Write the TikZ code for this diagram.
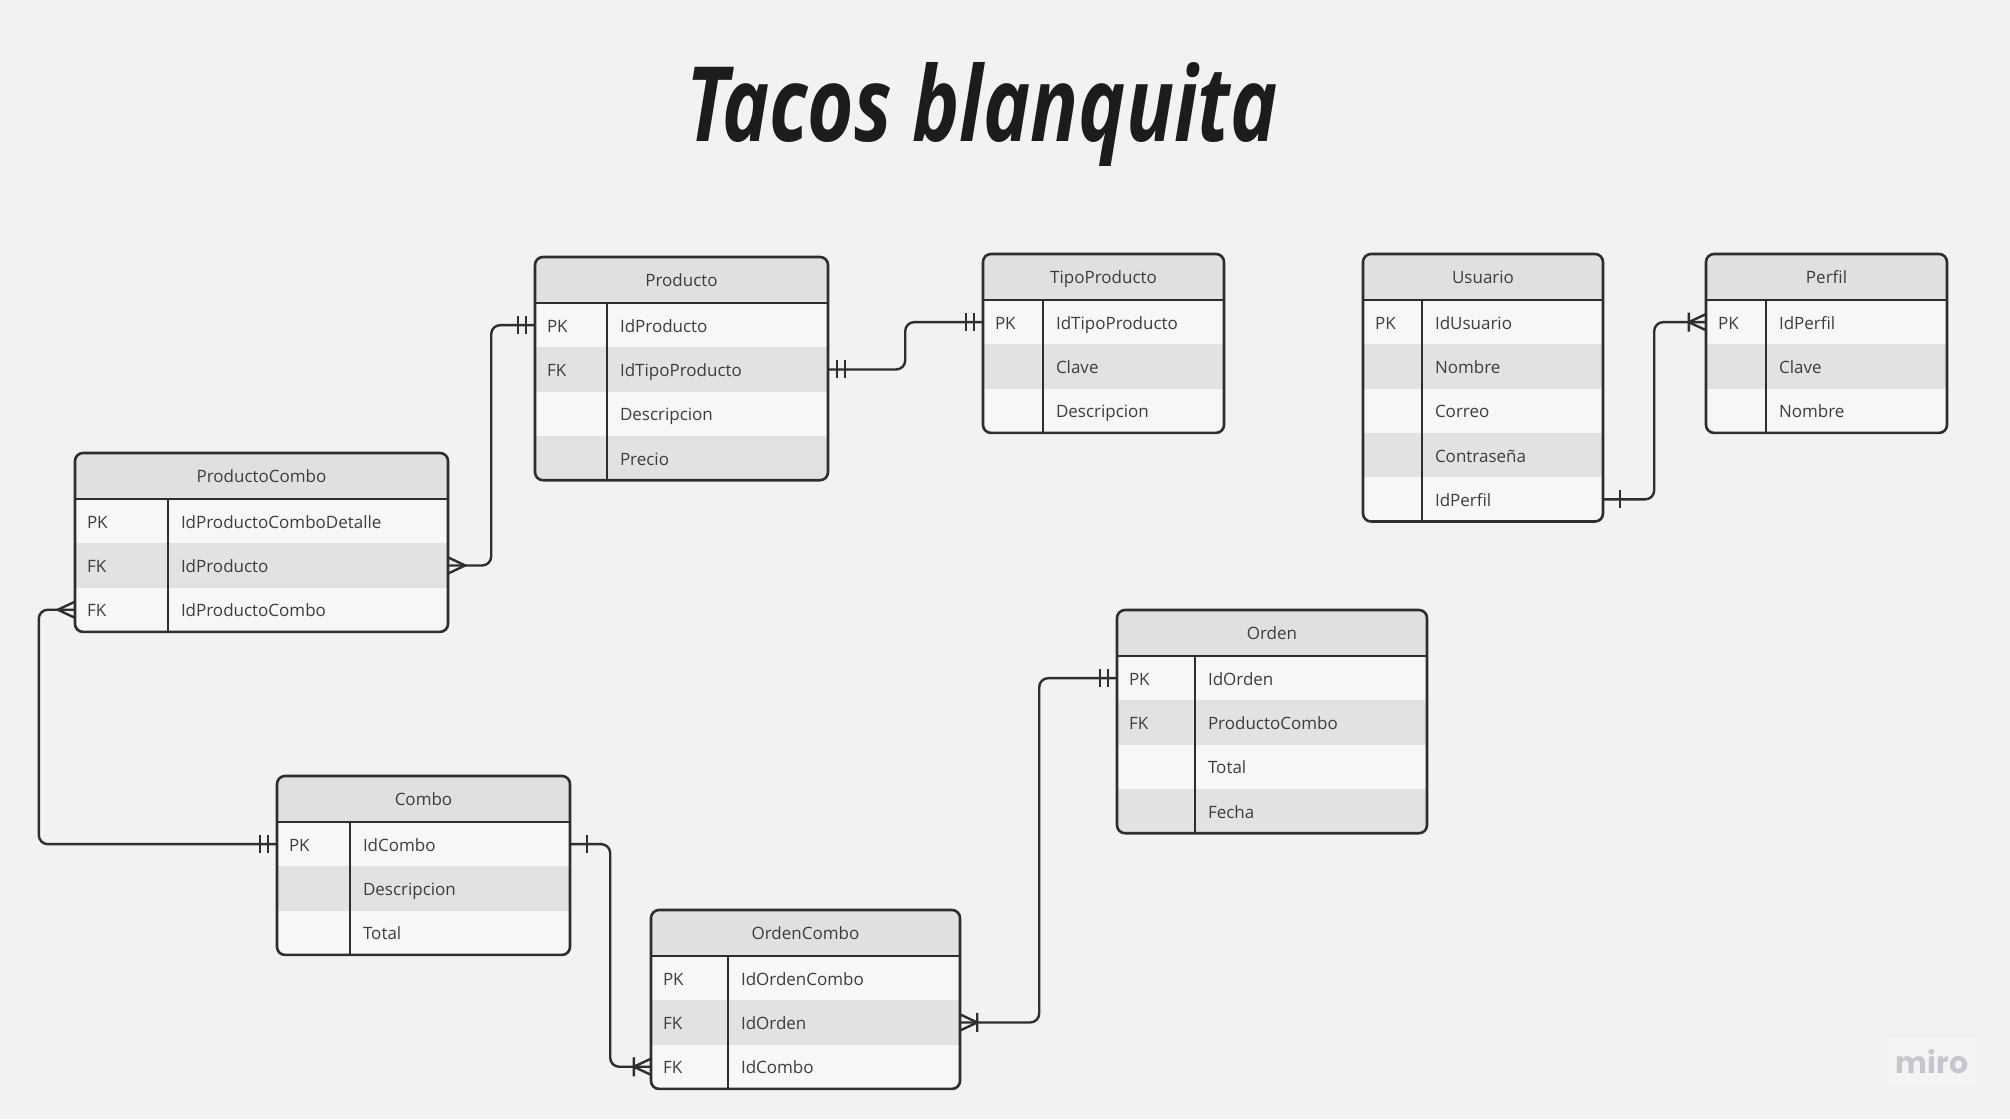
\documentclass[tikz,border=0pt]{standalone}
\usepackage{graphicx}
\usepackage{fontspec}
\setmainfont{Open Sans}
\newfontfamily\logofont{Poppins}
\usepackage{tikz}

\definecolor{bgcol}{HTML}{F2F2F2}
\definecolor{headgrey}{HTML}{E0E0E0}
\definecolor{rowlight}{HTML}{F7F7F7}
\definecolor{rowgrey}{HTML}{E2E2E2}
\definecolor{linecol}{HTML}{2E2E2E}
\definecolor{textcol}{HTML}{3D3D3D}
\definecolor{titlecol}{HTML}{1C1C1C}
\definecolor{logocol}{HTML}{C6C6CF}
\definecolor{logobg}{HTML}{F4F4F4}

\tikzset{
  headcell/.style={fill=headgrey, inner sep=0pt, minimum height=46pt,
    text height=12pt, text depth=0pt, text=textcol, font=\fontsize{17}{20}\selectfont},
  rowcell/.style={inner sep=0pt, minimum height=44.3pt},
  celltext/.style={anchor=base west, inner sep=0pt, text=textcol,
    font=\fontsize{17}{20}\selectfont},
  tabline/.style={draw=linecol, line width=2.4pt},
  entity/.style={draw=linecol, line width=2.6pt, rounded corners=8pt},
  conn/.style={draw=linecol, line width=2.4pt},
  bendline/.style={conn, rounded corners=9pt},
  % cardinality marks, drawn outwards along +x
  barone/.pic={\draw[conn] (17,-9) -- (17,9);},
  baronly/.pic={\draw[conn] (9,-9) -- (9,9) (17,-9) -- (17,9);},
  crowmany/.pic={\draw[conn] (0,-8) -- (17,0) -- (0,8);},
  crowone/.pic={\draw[conn] (0,-8) -- (17,0) -- (0,8) (17,-9.5) -- (17,9.5);},
}

% #1 name, #2 left, #3 top, #4 width, #5 key column, #6 rows, #7 title, #8 key/field list
\newcommand{\ertable}[8]{%
  \pgfmathsetmacro{\tabh}{46+44.3*#6}
  \begin{scope}
    \clip[rounded corners=8pt] (#2,#3) rectangle ++(#4,\tabh);
    \node (#1) at ({#2+#4/2}, {#3+23}) [headcell, minimum width=#4pt] {#7};
    \foreach \k/\f [count=\i] in {#8} {
      \ifodd\i\relax \def\rowcol{rowlight}\else \def\rowcol{rowgrey}\fi
      \node (#1-\i) at ({#2+#4/2}, {#3+46+44.3*(\i-0.5)})
        [rowcell, fill=\rowcol, minimum width=#4pt] {};
      \node (#1-\i-key) at ([xshift=12pt, yshift=-7pt]#1-\i.west) [celltext] {\k};
      \node (#1-\i-field) at ([xshift={#5+13}, yshift=-7pt]#1-\i.west) [celltext] {\f};
    }
  \end{scope}
  \draw[tabline] (#1.south west) -- (#1.south east);
  \draw[tabline] ([xshift=#5]#1.south west) -- ([xshift=#5]#1-#6.south west);
  \draw[entity] (#2,#3) rectangle ++(#4,\tabh);
}

\begin{document}
\begin{tikzpicture}[x=1pt, y=-1pt]
  \fill[bgcol] (0,0) rectangle (2010,1119);
  \useasboundingbox (0,0) rectangle (2010,1119);

  \node (title) at (982, 141)
    [anchor=base, text=titlecol, font=\fontsize{104}{110}\selectfont\bfseries\itshape]
    {\scalebox{0.765}[1]{Tacos blanquita}};

  \ertable{producto}{535}{257}{293}{72}{4}{Producto}
    {PK/IdProducto, FK/IdTipoProducto, /Descripcion, /Precio}
  \ertable{tipoproducto}{983}{254}{241}{60}{3}{TipoProducto}
    {PK/IdTipoProducto, /Clave, /Descripcion}
  \ertable{usuario}{1363}{254}{240}{59}{5}{Usuario}
    {PK/IdUsuario, /Nombre, /Correo, /Contraseña, /IdPerfil}
  \ertable{perfil}{1706}{254}{241}{60}{3}{Perfil}
    {PK/IdPerfil, /Clave, /Nombre}
  \ertable{productocombo}{75}{453}{373}{93}{3}{ProductoCombo}
    {PK/IdProductoComboDetalle, FK/IdProducto, FK/IdProductoCombo}
  \ertable{orden}{1117}{610}{310}{78}{4}{Orden}
    {PK/IdOrden, FK/ProductoCombo, /Total, /Fecha}
  \ertable{combo}{277}{776}{293}{73}{3}{Combo}
    {PK/IdCombo, /Descripcion, /Total}
  \ertable{ordencombo}{651}{910}{309}{77}{3}{OrdenCombo}
    {PK/IdOrdenCombo, FK/IdOrden, FK/IdCombo}

  % relations
  \draw[bendline] (productocombo-2.east) -- ++(43,0) |- (producto-1.west);
  \pic at (productocombo-2.east) {crowmany};
  \pic[xscale=-1] at (producto-1.west) {baronly};

  \draw[bendline] (producto-2.east) -- ++(77,0) |- (tipoproducto-1.west);
  \pic at (producto-2.east) {baronly};
  \pic[xscale=-1] at (tipoproducto-1.west) {baronly};

  \draw[bendline] (usuario-5.east) -- ++(51,0) |- (perfil-1.west);
  \pic at (usuario-5.east) {barone};
  \pic[xscale=-1] at (perfil-1.west) {crowone};

  \draw[bendline] (productocombo-3.west) -- ++(-36,0) |- (combo-1.west);
  \pic[xscale=-1] at (productocombo-3.west) {crowmany};
  \pic[xscale=-1] at (combo-1.west) {baronly};

  \draw[bendline] (combo-1.east) -- ++(40,0) |- (ordencombo-3.west);
  \pic at (combo-1.east) {barone};
  \pic[xscale=-1] at (ordencombo-3.west) {crowone};

  \draw[bendline] (ordencombo-2.east) -- ++(79,0) |- (orden-1.west);
  \pic at (ordencombo-2.east) {crowone};
  \pic[xscale=-1] at (orden-1.west) {baronly};

  \node (miro) at (1932, 1062)
    [fill=logobg, rounded corners=6pt, minimum width=95pt, minimum height=49pt,
     text=logocol, font=\logofont\bfseries\fontsize{30}{30}\selectfont] {miro};
\end{tikzpicture}
\end{document}
